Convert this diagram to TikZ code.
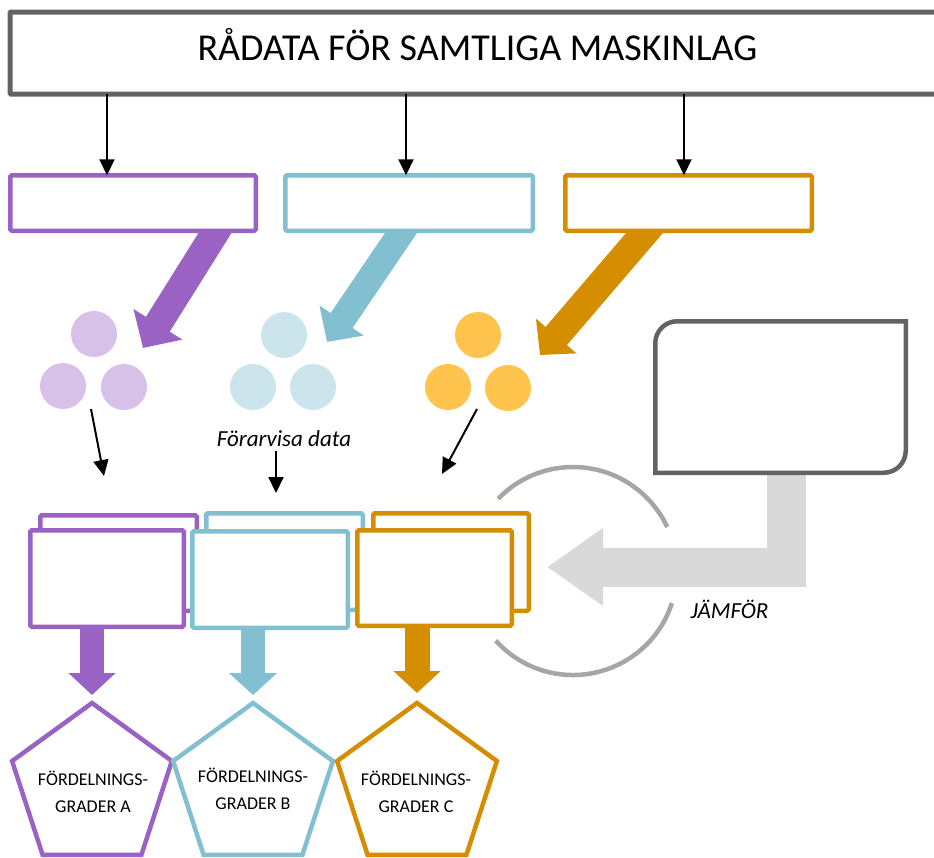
\documentclass[tikz,border=0pt]{standalone}
\usepackage{fontspec}
\setmainfont{Carlito}
\usetikzlibrary{shapes.geometric,arrows.meta,backgrounds,calc}
\definecolor{cpurple}{HTML}{9A62C2}
\definecolor{cblue}{HTML}{82BFD1}
\definecolor{corange}{HTML}{D48E00}
\definecolor{lpurple}{HTML}{D7C1E8}
\definecolor{lblue}{HTML}{CCE4EC}
\definecolor{lorange}{HTML}{FFC44D}
\definecolor{cgray}{HTML}{636366}
\definecolor{lgray}{HTML}{D9D9D9}
\definecolor{agray}{HTML}{A6A6A6}
\begin{document}
\begin{tikzpicture}[x=1pt,y=-1pt,
  cbox/.style={draw, line width=4.5pt, fill=white, rounded corners=1.5pt, inner sep=0pt, outer sep=0pt},
  cdot/.style={circle, minimum size=46pt, inner sep=0pt, draw=none},
  blkarrow/.style={black, line width=2pt, -{Triangle[width=15pt,length=16pt]}},
  bigarrow/.style n args={4}{draw=#1, line width=#2, -{Triangle[width=#3,length=#4]}},
  pent/.style={regular polygon, regular polygon sides=5, minimum size=168pt, inner sep=0pt, outer sep=0pt, draw, line width=4.5pt, fill=white},
  pentlbl/.style={font=\fontsize{18}{27}\selectfont, align=center, inner sep=0pt},
  itlbl/.style={font=\itshape\fontsize{23}{26}\selectfont, anchor=base, inner sep=0pt}
]
\useasboundingbox (0,0) rectangle (934,857);

% top box
\node[cbox, draw=cgray, line width=5pt, rounded corners=1pt, minimum width=935pt, minimum height=82pt] (top) at (477.5,53) {};
\node[font=\fontsize{38}{40}\selectfont, anchor=base, inner sep=0pt] (toptxt) at (477.5,60) {RÅDATA FÖR SAMTLIGA MASKINLAG};

% upper coloured boxes
\node[cbox, draw=cpurple, minimum width=245.5pt, minimum height=55.5pt] (pbox) at (133,203) {};
\node[cbox, draw=cblue, minimum width=247.5pt, minimum height=55.5pt] (bbox) at (409,203) {};
\node[cbox, draw=corange, minimum width=246.5pt, minimum height=55.5pt] (obox) at (688.5,203) {};

% arrows from top box
\coordinate (pa) at (107,203);
\coordinate (ba) at (406,203);
\coordinate (oa) at (684,203);
\draw[blkarrow] (pa |- top.south) -- (pa |- pbox.north);
\draw[blkarrow] (ba |- top.south) -- (ba |- bbox.north);
\draw[blkarrow] (oa |- top.south) -- (oa |- obox.north);

% circles
\node[cdot, fill=lpurple] (p1) at (94,334) {};
\node[cdot, fill=lpurple] (p2) at (63,386) {};
\node[cdot, fill=lpurple] (p3) at (124,387) {};
\node[cdot, fill=lblue] (b1) at (284,335) {};
\node[cdot, fill=lblue] (b2) at (253,387) {};
\node[cdot, fill=lblue] (b3) at (313,387) {};
\node[cdot, fill=lorange] (o1) at (478,335) {};
\node[cdot, fill=lorange] (o2) at (448,387) {};
\node[cdot, fill=lorange] (o3) at (508,388) {};

% big slanted arrows
\coordinate (ptip) at (143,348);
\coordinate (btip) at (327,342);
\coordinate (otip) at (540,355);
\begin{scope}[on background layer]
\draw[bigarrow={cpurple}{28pt}{56pt}{28pt}] ($(pbox.center)+(99.5,2)$) -- (ptip);
\draw[bigarrow={cblue}{26.5pt}{52pt}{26pt}] ($(bbox.center)+(11,2)$) -- (btip);
\draw[bigarrow={corange}{28pt}{52pt}{25pt}] ($(obox.center)+(-20,2)$) -- (otip);
\end{scope}

% label and thin arrows
\node[itlbl] (fdata) at (284,446) {Förarvisa data};
\coordinate (pt1) at (91,409);
\coordinate (pt2) at (104,476);
\coordinate (bt1) at (276,451);
\coordinate (bt2) at (276,493);
\coordinate (ot1) at (477,409);
\coordinate (ot2) at (442,474);
\draw[blkarrow] (pt1) -- (pt2);
\draw[blkarrow] (bt1) -- (bt2);
\draw[blkarrow] (ot1) -- (ot2);

% lower box stacks
\node[cbox, draw=cpurple, minimum width=156.5pt, minimum height=95.5pt] (pback) at (118.5,563) {};
\node[cbox, draw=cpurple, minimum width=153.5pt, minimum height=96.5pt] (pfront) at (107,578.5) {};
\node[cbox, draw=cblue, minimum width=156.5pt, minimum height=96.5pt] (bback) at (284.5,561.5) {};
\node[cbox, draw=cblue, minimum width=155.5pt, minimum height=96.5pt] (bfront) at (270,579.5) {};
\node[cbox, draw=corange, minimum width=155.5pt, minimum height=97.5pt] (oback) at (451,562) {};
\node[cbox, draw=corange, minimum width=154.5pt, minimum height=95.5pt] (ofront) at (434.5,578) {};

% pentagons
\node[pent, draw=cpurple] (ppent) at (92,787) {};
\node[pent, draw=cblue] (bpent) at (253,787) {};
\node[pent, draw=corange] (opent) at (417,787) {};
\node[pentlbl] (plbl) at (93,792) {FÖRDELNINGS-\\GRADER A};
\node[pentlbl] (blbl) at (253,789) {FÖRDELNINGS-\\GRADER B};
\node[pentlbl] (olbl) at (416,792) {FÖRDELNINGS-\\GRADER C};

\begin{scope}[on background layer]
\draw[bigarrow={cpurple}{24pt}{46pt}{22pt}] (ppent.north |- pfront.center) -- ($(ppent.north)+(0,-8)$);
\draw[bigarrow={cblue}{24pt}{47pt}{22pt}] (bpent.north |- bfront.center) -- ($(bpent.north)+(0,-8)$);
\draw[bigarrow={corange}{25pt}{46pt}{22pt}] (opent.north |- ofront.center) -- ($(opent.north)+(0,-10)$);
\end{scope}

% compare box
\node[minimum width=250.5pt, minimum height=151.5pt, inner sep=0pt, outer sep=0pt] (cmp) at (780.5,397) {};
\coordinate (jtip) at (547,567);
\begin{scope}[on background layer]
\draw[lgray, line width=39pt, line join=miter, -{Triangle[width=74pt,length=56pt]}] ($(cmp.south)+(6,-5)$) |- (jtip);
\end{scope}
\draw[draw=cgray, fill=white, line width=4.5pt] (cmp.south west) [rounded corners=22pt] -- (cmp.north west) [sharp corners] -- (cmp.north east) [rounded corners=22pt] -- (cmp.south east) [sharp corners] -- cycle;

% arcs
\coordinate (arcc) at (573,571);
\draw[agray, line width=4.5pt] ($(arcc)+(-136:104)$) arc[start angle=-136, end angle=-25, radius=104];
\draw[agray, line width=4.5pt] ($(arcc)+(18:104)$) arc[start angle=18, end angle=138, radius=104];

\node[itlbl] (jmf) at (729.5,618) {JÄMFÖR};
\end{tikzpicture}
\end{document}
